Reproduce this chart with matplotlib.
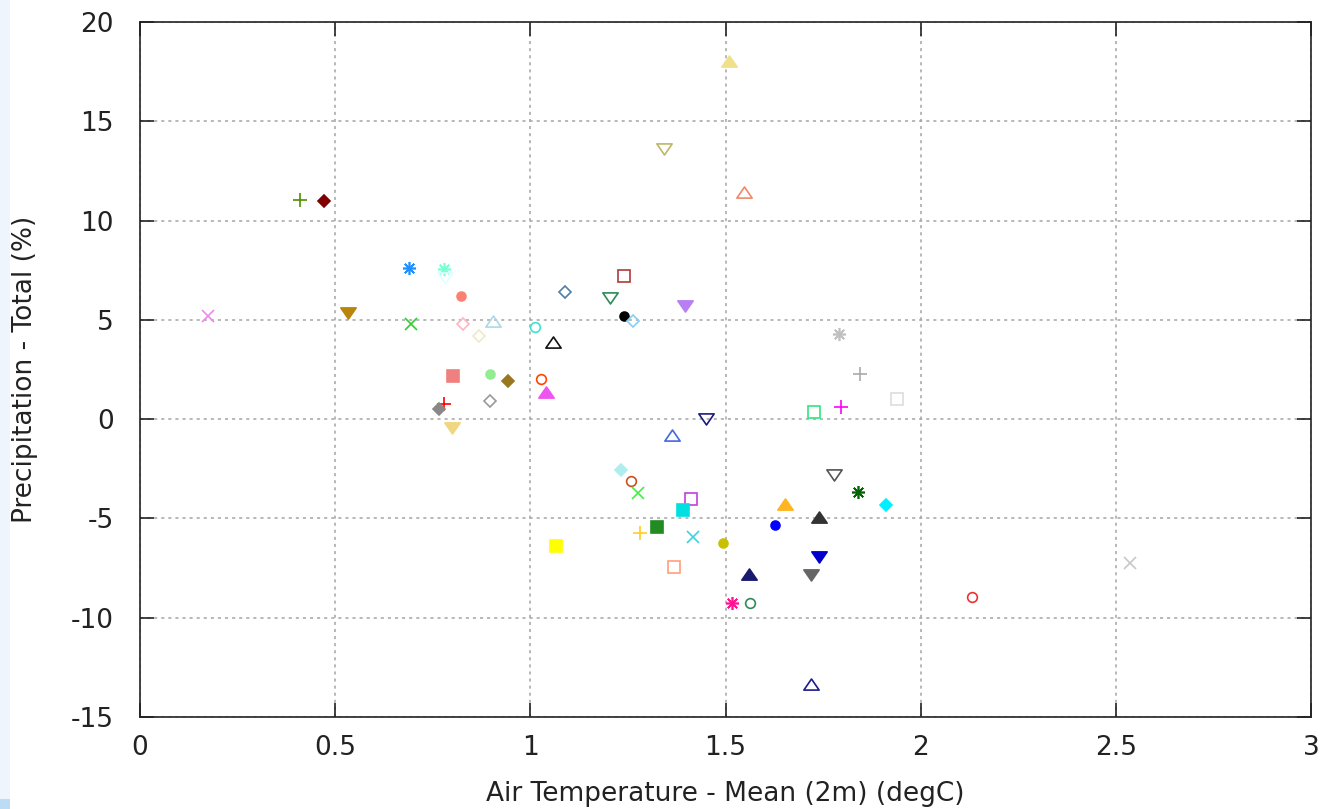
import matplotlib
matplotlib.use("Agg")
import matplotlib.pyplot as plt
from matplotlib.path import Path
from matplotlib.patches import Rectangle

# ---------------- data ----------------
temp_change = [0.41, 0.472, 0.175, 0.533, 0.69, 0.778, 0.782, 0.822, 0.695, 0.827,
               0.869, 0.904, 0.801, 0.896, 0.944, 0.896, 0.779, 0.765, 0.799, 1.013,
               1.058, 1.027, 1.04, 1.088, 1.241, 1.203, 1.241, 1.263, 1.395, 1.45,
               1.363, 1.232, 1.258, 1.276, 1.412, 1.39, 1.325, 1.28, 1.416, 1.067,
               1.494, 1.367, 1.517, 1.564, 1.56, 1.626, 1.652, 1.739, 1.739, 1.718,
               1.779, 1.84, 1.91, 1.726, 1.797, 1.792, 1.844, 1.94, 2.536, 2.131,
               1.718, 1.508, 1.342, 1.547]
precip_change = [11.04, 10.98, 5.19, 5.41, 7.6, 7.55, 7.17, 6.2, 4.77, 4.77,
                 4.18, 4.9, 2.17, 2.27, 1.94, 0.93, 0.76, 0.51, -0.38, 4.63,
                 3.82, 2.0, 1.3, 6.42, 7.21, 6.17, 5.19, 4.96, 5.75, 0.04,
                 -0.85, -2.56, -3.1, -3.73, -4.02, -4.58, -5.45, -5.75, -5.95, -6.39,
                 -6.25, -7.43, -9.27, -9.27, -7.85, -5.33, -4.32, -4.99, -6.89, -7.8,
                 -2.78, -3.65, -4.32, 0.34, 0.6, 4.27, 2.26, 1.01, -7.26, -8.96,
                 -13.39, 18.0, 13.64, 11.37]

# marker style per model: shape, colour, filled
marker_shapes = ['+', 'D', 'x', 'v', '*', '*', 'v', 'o', 'x', 'D',
                 'D', '^', 's', 'o', 'D', 'D', '+', 'D', 'v', 'o',
                 '^', 'o', '^', 'D', 's', 'v', 'o', 'D', 'v', 'v',
                 '^', 'D', 'o', 'x', 's', 's', 's', '+', 'x', 's',
                 'o', 's', '*', 'o', '^', 'o', '^', '^', 'v', 'v',
                 'v', '*', 'D', 's', '+', '*', '+', 's', 'x', 'o',
                 '^', '^', 'v', '^']
marker_colors = ['#4f8f00', '#800000', '#ee88ee', '#b8860b', '#1e90ff', '#7fffd4', '#e0ffff', '#fa8072', '#32cd32', '#ffb6c1',
                 '#eeeac8', '#add8e6', '#f08080', '#90ee90', '#99771f', '#999999', '#ff0000', '#888888', '#f0d680', '#40e0d0',
                 '#111111', '#ff4500', '#ee55ee', '#4f7ea8', '#b03a3a', '#2e8b57', '#000000', '#87cefa', '#b77ff2', '#1a1a80',
                 '#4169e1', '#afeeee', '#c8501e', '#44ee44', '#c040e0', '#00e0e0', '#228b22', '#ffcc22', '#40d0e0', '#ffff00',
                 '#c8c000', '#ffa07a', '#ff1493', '#2e8b57', '#191970', '#0000ff', '#ffb522', '#333333', '#0000cd', '#666666',
                 '#555555', '#006400', '#00f0ff', '#2ee87a', '#ff00ff', '#c0c0c0', '#aaaaaa', '#dddddd', '#c8c8c8', '#f03030',
                 '#1c1c8c', '#f0e08a', '#bdb76b', '#f0886a']
marker_filled = [False, True, False, True, False, False, False, True, False, False,
                 False, False, True, True, True, False, False, True, True, False,
                 False, False, True, False, False, False, True, False, True, False,
                 False, True, False, False, False, True, True, False, False, True,
                 True, False, False, False, True, True, True, True, True, True,
                 False, False, True, False, False, False, False, False, False, False,
                 False, True, False, False]

x_ticks = [0, 0.5, 1, 1.5, 2, 2.5, 3]
x_ticklabels = ['0', '0.5', '1', '1.5', '2', '2.5', '3']
y_ticks = [-15, -10, -5, 0, 5, 10, 15, 20]
y_ticklabels = ['-15', '-10', '-5', '0', '5', '10', '15', '20']
x_label = 'Air Temperature - Mean (2m) (degC)'
y_label = 'Precipitation - Total (%)'

# ---------------- style ----------------
plt.rcParams['font.family'] = ['DejaVu Sans']
plt.rcParams['lines.scale_dashes'] = False
FS = 19
TXT = '#222222'

W, H = 1326, 809
fig = plt.figure(figsize=(W / 100, H / 100), dpi=100)
fig.patch.set_facecolor('white')
fig.add_artist(Rectangle((0, 0), 10 / W, 1, transform=fig.transFigure,
                         facecolor='#eef5fc', edgecolor='none', zorder=0))
fig.add_artist(Rectangle((0, 0), 10 / W, 10 / H, transform=fig.transFigure,
                         facecolor='#bcdcf5', edgecolor='none', zorder=0))

L, R, T, B = 140, 1311, 22, 717
ax = fig.add_axes([L / W, (H - B) / H, (R - L) / W, (B - T) / H])

tri_up = Path([(-1, -0.6), (1, -0.6), (0, 0.85), (-1, -0.6)],
              [Path.MOVETO, Path.LINETO, Path.LINETO, Path.CLOSEPOLY])
tri_dn = Path([(-1, 0.6), (1, 0.6), (0, -0.85), (-1, 0.6)],
              [Path.MOVETO, Path.LINETO, Path.LINETO, Path.CLOSEPOLY])

shape_map = {
    '^': (tri_up, 11.0),
    'v': (tri_dn, 11.0),
    's': ('s', 8.4),
    'D': ('D', 6.2),
    'o': ('o', 7.0),
    '+': ('+', 10.0),
    'x': ('x', 9.2),
    '*': ((8, 2, 0), 9.4),
}

for xv, yv, sh, col, fil in zip(temp_change, precip_change, marker_shapes,
                                marker_colors, marker_filled):
    mk, ms = shape_map[sh]
    if sh in ('+', 'x', '*'):
        ax.plot([xv], [yv], linestyle='none', marker=mk, markersize=ms,
                color=col, markeredgewidth=1.2, zorder=3)
    else:
        if fil and sh == 'o':
            ms = 6.4
        ax.plot([xv], [yv], linestyle='none', marker=mk, markersize=ms,
                markeredgecolor=col,
                markerfacecolor=(col if fil else 'none'),
                markeredgewidth=1.2, zorder=3)

ax.set_xlim(0, 3)
ax.set_ylim(-15, 20)
ax.set_xticks(x_ticks)
ax.set_xticklabels(x_ticklabels)
ax.set_yticks(y_ticks)
ax.set_yticklabels(y_ticklabels)

ax.grid(True, color='#a4a4a4', linewidth=1.1, linestyle=(0, (2.2, 2.9)), zorder=1)
ax.set_axisbelow(True)

for s in ax.spines.values():
    s.set_color('#222222')
    s.set_linewidth(1.2)

ax.tick_params(axis='both', which='major', direction='in', length=10, width=1.2,
               color='#222222', labelsize=FS, labelcolor=TXT,
               top=True, right=True)
ax.tick_params(axis='y', pad=19)
ax.tick_params(axis='x', pad=13)

fig.text((L + R) / 2 / W, (H - 801) / H, x_label, ha='center', va='baseline',
         fontsize=FS, color=TXT)
fig.text(25 / W, 1 - ((T + B) / 2) / H, y_label, ha='center', va='center',
         rotation=90, fontsize=FS, color=TXT)

fig.savefig('out.png', dpi=100, facecolor='white')
